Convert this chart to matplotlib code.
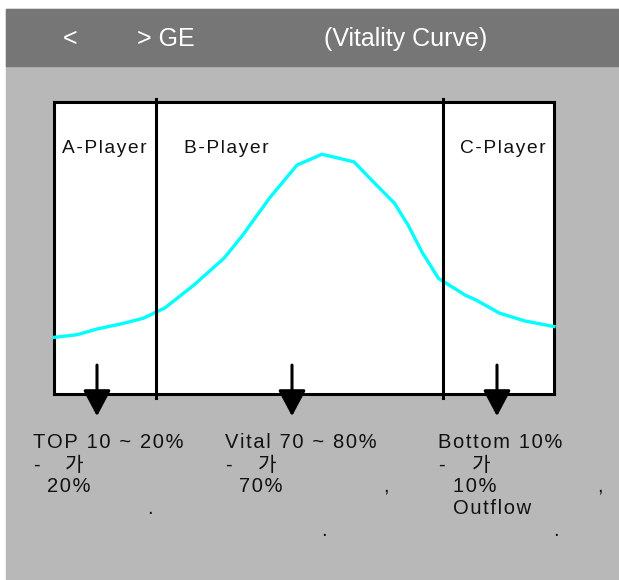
import matplotlib
matplotlib.use('Agg')
import matplotlib.pyplot as plt
from matplotlib.patches import Rectangle

# curve: x = share of staff (0-100), y = relative height
curve_x = [0, 4.6, 8.7, 13.4, 17.8, 22.2, 27.9, 34.0, 37.7, 43.1, 48.6, 53.6,
           60.0, 63.1, 68.1, 70.8, 73.6, 76.9, 82.3, 84.4, 89.1, 94.2, 100]
curve_y = [19.4, 20.3, 22.3, 24.0, 25.9, 29.5, 37.2, 46.5, 54.3, 67.1, 78.4, 82.1,
           79.5, 74.0, 65.3, 57.9, 48.6, 39.6, 33.8, 32.2, 27.7, 25.0, 23.1]

dividers = [20.4, 77.8]
group_labels = ['A-Player', 'B-Player', 'C-Player']
group_label_x = [1.6, 25.9, 81.3]
arrow_x = [8.6, 47.6, 88.6]

W, H = 619, 580
LIGHT = '#b8b8b8'
DARK = '#767676'
FONT = ['Liberation Sans', 'DejaVu Sans', 'Noto Sans CJK KR']


def px(x, y):
    # pixel position (top-left origin) -> figure fraction
    return x / W, 1 - y / H


def spaced(s):
    # the original text is letter-spaced; a hair space between glyphs mimics that
    return '\u200a'.join(s)


fig = plt.figure(figsize=(W / 100, H / 100), dpi=100)
fig.patch.set_facecolor('white')
fig.add_artist(Rectangle(px(6, 580), (W - 6) / W, (580 - 9) / H,
                         transform=fig.transFigure, color=LIGHT, zorder=-2))
fig.add_artist(Rectangle(px(6, 66), (W - 6) / W, (66 - 9) / H,
                         transform=fig.transFigure, color=DARK, zorder=-1))

# title band
for txt, x in [('<', 63), ('> GE', 137), ('(Vitality Curve)', 324)]:
    fig.text(*px(x, 46), txt, color='white', fontsize=18,
             family='Liberation Sans', va='baseline', ha='left')

ax = fig.add_axes([54 / W, (580 - 394) / H, 500 / W, 292 / H])
ax.set_facecolor('white')
ax.set_xlim(0, 100)
ax.set_ylim(0, 100)
ax.set_xticks([])
ax.set_yticks([])
for s in ax.spines.values():
    s.set_linewidth(2.2)
    s.set_color('black')

ax.plot(curve_x, curve_y, color='#00ffff', lw=2.4, clip_on=False, zorder=3)

for d in dividers:
    ax.axvline(d, ymin=-0.014, ymax=1.01, color='black', lw=2.2,
               clip_on=False, zorder=4)

for lab, x in zip(group_labels, group_label_x):
    ax.text(x, 82.5, spaced(lab), fontsize=13.8, family=FONT, va='baseline',
            ha='left', color='#111111')

for x in arrow_x:
    ax.annotate('', xy=(x, -7.6), xytext=(x, 9.9),
                arrowprops=dict(arrowstyle='-|>,head_length=1.6,head_width=0.85',
                                color='black', lw=2.2, shrinkA=0, shrinkB=0,
                                mutation_scale=10),
                annotation_clip=False)

# notes under the chart (only the glyphs visible in the picture)
notes = [
    ('TOP 10 ~ 20%', 33, 448), ('-', 33, 471), ('가', 65, 471),
    ('20%', 47, 492), ('.', 147, 514),
    ('Vital 70 ~ 80%', 225, 448), ('-', 225, 471), ('가', 258, 471),
    ('70%', 239, 492), (',', 383, 492), ('.', 321, 536),
    ('Bottom 10%', 438, 448), ('-', 438, 471), ('가', 472, 471),
    ('10%', 453, 492), (',', 597, 492), ('Outflow', 453, 514), ('.', 553, 536),
]
for txt, x, y in notes:
    fig.text(*px(x, y), spaced(txt), fontsize=14.5, family=FONT, va='baseline',
             ha='left', color='#111111')

fig.savefig('out.png', dpi=100)
